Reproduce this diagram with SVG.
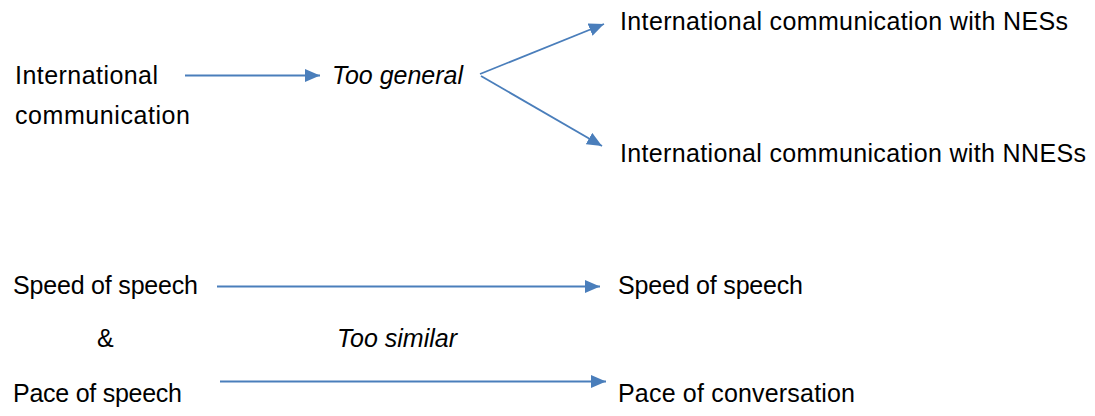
<svg xmlns="http://www.w3.org/2000/svg" width="1095" height="416" viewBox="0 0 1095 416">
  <style>
    .t { font-family: "Liberation Sans", Arial, sans-serif; font-size: 25px; fill: #000; }
    .i { font-style: italic; }
    .c { stroke: #4A7EBB; stroke-width: 1.8; fill: none; marker-end: url(#ah); }
  </style>
  <defs>
    <marker id="ah" markerUnits="userSpaceOnUse" markerWidth="17" markerHeight="14" refX="15" refY="6.5" orient="auto">
      <path d="M0,0 L15,6.5 L0,13 Z" fill="#4A7EBB"/>
    </marker>
  </defs>
  <rect width="1095" height="416" fill="#fff"/>

  <g id="n-intl">
    <text class="t" x="15" y="83.5" textLength="143">International</text>
    <text class="t" x="15" y="123.5" textLength="175">communication</text>
  </g>
  <g id="n-general">
    <text class="t i" x="332" y="83.5" textLength="131">Too general</text>
  </g>
  <g id="n-nes">
    <text class="t" x="620" y="29.5" textLength="448">International communication with NESs</text>
  </g>
  <g id="n-nnes">
    <text class="t" x="620" y="161.5" textLength="466">International communication with NNESs</text>
  </g>
  <g id="n-speed-left">
    <text class="t" x="13" y="293.5" textLength="185">Speed of speech</text>
  </g>
  <g id="n-amp">
    <text class="t" x="97" y="346.5" textLength="16">&amp;</text>
  </g>
  <g id="n-similar">
    <text class="t i" x="337" y="346.5" textLength="120">Too similar</text>
  </g>
  <g id="n-pace-left">
    <text class="t" x="13" y="401.5" textLength="169">Pace of speech</text>
  </g>
  <g id="n-speed-right">
    <text class="t" x="618" y="294" textLength="185">Speed of speech</text>
  </g>
  <g id="n-pace-right">
    <text class="t" x="618" y="401.5" textLength="237">Pace of conversation</text>
  </g>

  <g id="connectors">
    <line class="c" x1="185" y1="75.5" x2="320" y2="75.5"/>
    <line class="c" x1="480" y1="74" x2="604" y2="24"/>
    <line class="c" x1="481" y1="76" x2="602" y2="146"/>
    <line class="c" x1="217" y1="286.5" x2="600" y2="286.5"/>
    <line class="c" x1="220" y1="381.5" x2="606" y2="381.5"/>
  </g>
</svg>
